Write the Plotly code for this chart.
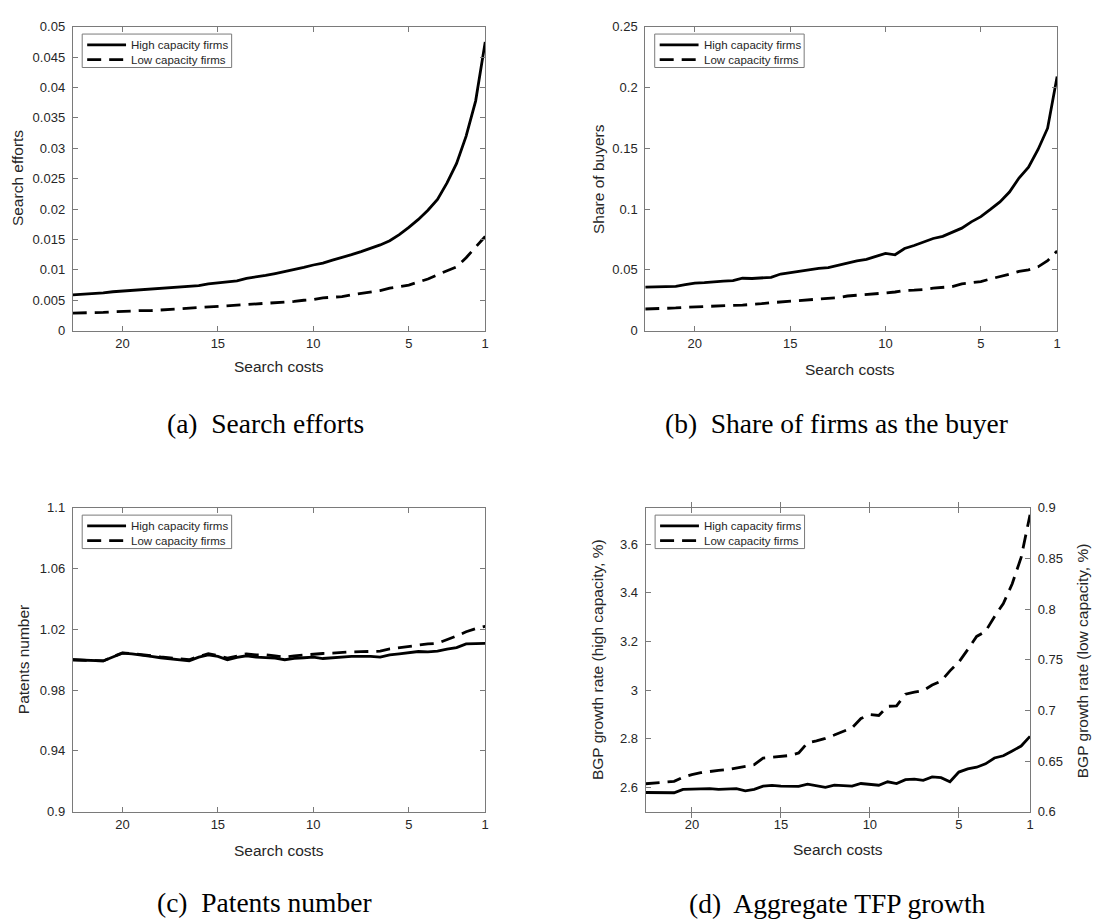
import plotly.graph_objects as go

# ---------------------------------------------------------------- data
search_costs = [22.6, 22.0, 21.5, 21.0, 20.5, 20.0, 19.5, 19.0, 18.5, 18.0,
                17.5, 17.0, 16.5, 16.0, 15.5, 15.0, 14.5, 14.0, 13.5, 13.0,
                12.5, 12.0, 11.5, 11.0, 10.5, 10.0, 9.5, 9.0, 8.5, 8.0,
                7.5, 7.0, 6.5, 6.0, 5.5, 5.0, 4.5, 4.0, 3.5, 3.0,
                2.5, 2.0, 1.5, 1.0]

series_names = ["High capacity firms", "Low capacity firms"]

effort_high = [0.0059, 0.0060, 0.0061, 0.0062, 0.0064, 0.0065, 0.0066, 0.0067, 0.0068, 0.0069,
               0.0070, 0.0071, 0.0073, 0.0074, 0.0077, 0.0079, 0.0080, 0.0082, 0.0086, 0.0088,
               0.0091, 0.0094, 0.0097, 0.0100, 0.0104, 0.0108, 0.0111, 0.0116, 0.0120, 0.0125,
               0.0130, 0.0135, 0.0141, 0.0148, 0.0158, 0.0170, 0.0183, 0.0198, 0.0216, 0.0243,
               0.0275, 0.0320, 0.0378, 0.0475]
effort_low = [0.0029, 0.0029, 0.0030, 0.0030, 0.0031, 0.0032, 0.0032, 0.0033, 0.0033, 0.0034,
              0.0035, 0.0035, 0.0036, 0.0037, 0.0038, 0.0039, 0.0040, 0.0041, 0.0042, 0.0043,
              0.0044, 0.0046, 0.0047, 0.0048, 0.0050, 0.0051, 0.0054, 0.0055, 0.0056, 0.0059,
              0.0061, 0.0063, 0.0066, 0.0070, 0.0072, 0.0075, 0.0080, 0.0085, 0.0092, 0.0099,
              0.0105, 0.0120, 0.0137, 0.0155]

buyers_high = [0.0358, 0.0362, 0.0366, 0.0364, 0.0378, 0.0391, 0.0395, 0.0404, 0.0408, 0.0412,
               0.0431, 0.0429, 0.0434, 0.0439, 0.0466, 0.0478, 0.0484, 0.0496, 0.0513, 0.0519,
               0.0537, 0.0558, 0.0574, 0.0587, 0.0614, 0.0636, 0.0624, 0.0676, 0.0700, 0.0727,
               0.0758, 0.0776, 0.0808, 0.0843, 0.0895, 0.0938, 0.0997, 0.1059, 0.1140, 0.1255,
               0.1345, 0.1490, 0.1665, 0.2090]
buyers_low = [0.0178, 0.0180, 0.0183, 0.0187, 0.0192, 0.0196, 0.0198, 0.0200, 0.0203, 0.0208,
              0.0210, 0.0214, 0.0222, 0.0230, 0.0236, 0.0242, 0.0250, 0.0256, 0.0262, 0.0266,
              0.0272, 0.0285, 0.0290, 0.0296, 0.0305, 0.0310, 0.0318, 0.0331, 0.0333, 0.0338,
              0.0350, 0.0356, 0.0362, 0.0385, 0.0395, 0.0404, 0.0425, 0.0442, 0.0465, 0.0488,
              0.0500, 0.0525, 0.0575, 0.0655]

patents_high = [1.0000, 0.9998, 0.9994, 0.9992, 1.0018, 1.0043, 1.0038, 1.0032, 1.0022, 1.0013,
                1.0005, 0.9996, 0.9993, 1.0017, 1.0032, 1.0022, 1.0000, 1.0015, 1.0026, 1.0017,
                1.0014, 1.0011, 1.0000, 1.0009, 1.0013, 1.0017, 1.0008, 1.0013, 1.0018, 1.0022,
                1.0022, 1.0022, 1.0017, 1.0032, 1.0039, 1.0047, 1.0054, 1.0052, 1.0056, 1.0069,
                1.0080, 1.0104, 1.0104, 1.0108]
patents_low = [1.0000, 0.9998, 0.9994, 0.9992, 1.0020, 1.0045, 1.0040, 1.0035, 1.0026, 1.0018,
               1.0012, 1.0004, 1.0000, 1.0022, 1.0039, 1.0028, 1.0010, 1.0024, 1.0039, 1.0032,
               1.0032, 1.0025, 1.0017, 1.0026, 1.0032, 1.0039, 1.0041, 1.0043, 1.0048, 1.0052,
               1.0053, 1.0054, 1.0056, 1.0071, 1.0080, 1.0090, 1.0097, 1.0104, 1.0108, 1.0130,
               1.0156, 1.0184, 1.0205, 1.0220]

growth_high = [2.579, 2.578, 2.576, 2.578, 2.592, 2.593, 2.594, 2.595, 2.592, 2.592,
               2.595, 2.586, 2.592, 2.605, 2.608, 2.605, 2.603, 2.604, 2.613, 2.608,
               2.600, 2.609, 2.608, 2.605, 2.616, 2.611, 2.609, 2.623, 2.616, 2.632,
               2.634, 2.629, 2.643, 2.640, 2.623, 2.663, 2.676, 2.683, 2.697, 2.721,
               2.730, 2.750, 2.770, 2.810]
growth_low = [0.6276, 0.6285, 0.6290, 0.6300, 0.6340, 0.6367, 0.6385, 0.6400, 0.6408, 0.6416,
              0.6430, 0.6448, 0.6464, 0.6530, 0.6538, 0.6545, 0.6555, 0.6580, 0.6680, 0.6700,
              0.6724, 0.6757, 0.6790, 0.6828, 0.6920, 0.6958, 0.6950, 0.7040, 0.7045, 0.7160,
              0.7180, 0.7195, 0.7250, 0.7290, 0.7390, 0.7477, 0.7600, 0.7730, 0.7780, 0.7925,
              0.8055, 0.8250, 0.8510, 0.8930]

cost_ticks = [20, 15, 10, 5, 1]
cost_tick_text = ["20", "15", "10", "5", "1"]
effort_ticks = [0, 0.005, 0.01, 0.015, 0.02, 0.025, 0.03, 0.035, 0.04, 0.045, 0.05]
effort_tick_text = ["0", "0.005", "0.01", "0.015", "0.02", "0.025", "0.03", "0.035",
                    "0.04", "0.045", "0.05"]
buyer_ticks = [0, 0.05, 0.1, 0.15, 0.2, 0.25]
buyer_tick_text = ["0", "0.05", "0.1", "0.15", "0.2", "0.25"]
patent_ticks = [0.9, 0.94, 0.98, 1.02, 1.06, 1.1]
patent_tick_text = ["0.9", "0.94", "0.98", "1.02", "1.06", "1.1"]
growth_high_ticks = [2.6, 2.8, 3.0, 3.2, 3.4, 3.6]
growth_high_tick_text = ["2.6", "2.8", "3", "3.2", "3.4", "3.6"]
growth_low_ticks = [0.6, 0.65, 0.7, 0.75, 0.8, 0.85, 0.9]
growth_low_tick_text = ["0.6", "0.65", "0.7", "0.75", "0.8", "0.85", "0.9"]

x_title = "Search costs"
captions = ["(a)\u00a0 Search efforts", "(b)\u00a0 Share of firms as the buyer",
            "(c)\u00a0 Patents number", "(d)\u00a0 Aggregate TFP growth"]

# ---------------------------------------------------------------- styling
W, H = 1097, 924
SANS = "Liberation Sans, Arial, sans-serif"
SERIF = "Liberation Serif, Times New Roman, serif"
TXT = "#262626"
AX = "#7a7a7a"
LW = 2.8
DASH = "14px,8px"


def px_x(p):
    return p / W


def px_y(p):
    return 1 - p / H


# plot boxes in pixels: left, right, top, bottom
boxes = {
    "a": (73, 487, 20, 329),
    "b": (647.6, 1061, 20, 329),
    "c": (73, 487, 509, 818),
    "d": (648, 1033.8, 509, 818),
}


def xdom(b):
    return [px_x(b[0]), px_x(b[1])]


def ydom(b):
    return [px_y(b[3]), px_y(b[2])]


def x_axis(b, anchor):
    return dict(domain=xdom(b), anchor=anchor, range=[22.6, 1],
                tickvals=cost_ticks, ticktext=cost_tick_text,
                ticks="inside", ticklen=5, tickwidth=1, tickcolor=AX,
                showline=True, linecolor=AX, linewidth=1, mirror="allticks",
                showgrid=False, zeroline=False, ticklabelstandoff=1,
                tickfont=dict(family=SANS, size=13, color=TXT))


def y_axis(b, anchor, rng, vals, text, mirror="allticks", side="left"):
    return dict(domain=ydom(b), anchor=anchor, range=rng, side=side,
                tickvals=vals, ticktext=text,
                ticks="inside", ticklen=5, tickwidth=1, tickcolor=AX,
                showline=True, linecolor=AX, linewidth=1, mirror=mirror,
                showgrid=False, zeroline=False, ticklabelstandoff=4,
                tickfont=dict(family=SANS, size=13, color=TXT))


fig = go.Figure()


def add_pair(high, low, xa, ya_high, ya_low):
    fig.add_trace(go.Scatter(x=search_costs, y=high, mode="lines", name=series_names[0],
                             xaxis=xa, yaxis=ya_high, showlegend=False,
                             line=dict(color="black", width=LW)))
    fig.add_trace(go.Scatter(x=search_costs, y=low, mode="lines", name=series_names[1],
                             xaxis=xa, yaxis=ya_low, showlegend=False,
                             line=dict(color="black", width=LW, dash=DASH)))


add_pair(effort_high, effort_low, "x", "y", "y")
add_pair(buyers_high, buyers_low, "x2", "y2", "y2")
add_pair(patents_high, patents_low, "x3", "y3", "y3")
add_pair(growth_high, growth_low, "x4", "y4", "y5")

layout = dict(
    width=W, height=H, margin=dict(l=0, r=0, t=0, b=0),
    paper_bgcolor="white", plot_bgcolor="white", showlegend=False,
    xaxis=x_axis(boxes["a"], "y"),
    yaxis=y_axis(boxes["a"], "x", [0, 0.05], effort_ticks, effort_tick_text),
    xaxis2=x_axis(boxes["b"], "y2"),
    yaxis2=y_axis(boxes["b"], "x2", [0, 0.25], buyer_ticks, buyer_tick_text),
    xaxis3=x_axis(boxes["c"], "y3"),
    yaxis3=y_axis(boxes["c"], "x3", [0.9, 1.1], patent_ticks, patent_tick_text),
    xaxis4=x_axis(boxes["d"], "y4"),
    yaxis4=y_axis(boxes["d"], "x4", [2.5, 3.75], growth_high_ticks,
                  growth_high_tick_text, mirror=False),
    yaxis5=dict(y_axis(boxes["d"], "x4", [0.6, 0.9], growth_low_ticks,
                       growth_low_tick_text, mirror=False, side="right"),
                overlaying="y4"),
)
fig.update_layout(**layout)

annotations = []
shapes = []


def text(x, y, s, size, family=SANS, color=TXT, angle=0, xanchor="center"):
    annotations.append(dict(x=px_x(x), y=px_y(y), xref="paper", yref="paper",
                            text=s, showarrow=False, textangle=angle,
                            xanchor=xanchor, yanchor="middle",
                            font=dict(family=family, size=size, color=color)))


# axis titles
text(280, 365, x_title, 15.5)
text(853, 368, x_title, 15.5)
text(280, 857, x_title, 15.5)
text(841, 856, x_title, 15.5)
text(17, 174, "Search efforts", 15.5, angle=-90)
text(600, 175, "Share of buyers", 15.5, angle=-90)
text(23, 663, "Patents number", 15.5, angle=-90)
text(599, 663, "BGP growth rate (high capacity, %)", 15.5, angle=-90)
text(1086, 665, "BGP growth rate (low capacity, %)", 15.5, angle=-90)

# sub-figure captions
text(266, 423, captions[0], 27.5, family=SERIF, color="black")
text(840, 423, captions[1], 27.5, family=SERIF, color="black")
text(265, 910, captions[2], 27.5, family=SERIF, color="black")
text(841, 911, captions[3], 27.5, family=SERIF, color="black")

# boxed legends in the upper-left corner of every panel
for key in "abcd":
    left, _, top, _ = boxes[key]
    bx, by = left + 9.5, top + 7.5
    shapes.append(dict(type="rect", xref="paper", yref="paper",
                       x0=px_x(bx), x1=px_x(bx + 150), y0=px_y(by + 34), y1=px_y(by),
                       line=dict(color=AX, width=1), fillcolor="white", layer="above"))
    for i, name in enumerate(series_names):
        ry = by + 11 + 15 * i
        shapes.append(dict(type="line", xref="paper", yref="paper",
                           x0=px_x(bx + 5), x1=px_x(bx + 44), y0=px_y(ry), y1=px_y(ry),
                           line=dict(color="black", width=LW,
                                     dash="solid" if i == 0 else DASH),
                           layer="above"))
        text(bx + 47, ry, name, 11.5, color=TXT, xanchor="left")

fig.update_layout(annotations=annotations, shapes=shapes)
fig.write_html("out.html")
